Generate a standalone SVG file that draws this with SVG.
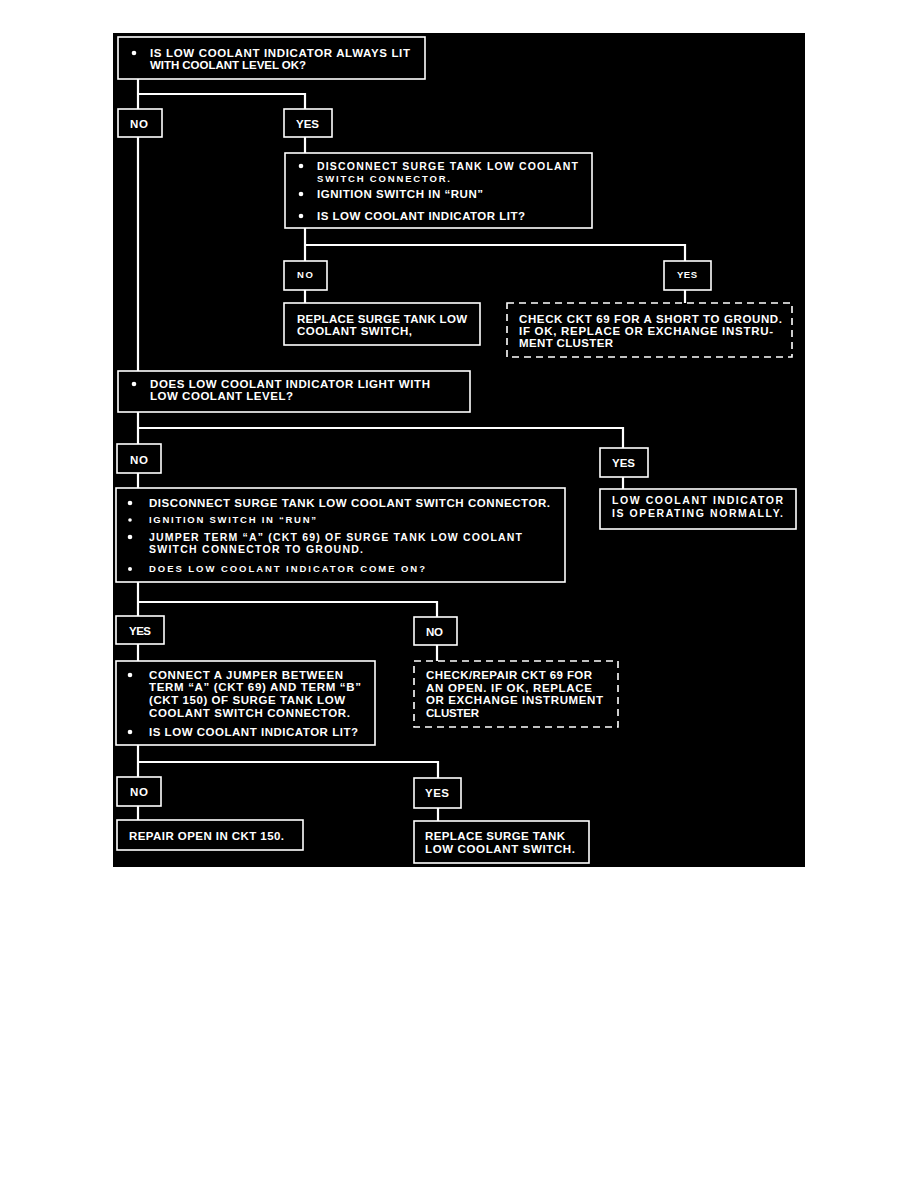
<svg xmlns="http://www.w3.org/2000/svg" width="918" height="1188" viewBox="0 0 918 1188">
<style>
.bg{fill:#000}
.box{fill:#000;stroke:#fff;stroke-width:1.6}
.dash{fill:#000;stroke:#fff;stroke-width:1.6;stroke-dasharray:7,5}
.con{fill:none;stroke:#fff;stroke-width:2.2}
text{font-family:"Liberation Sans",Arial,sans-serif;font-weight:bold;font-size:11.5px;fill:#fff}
.t{font-size:10.5px}
.s{font-size:9.5px}
.b{fill:#fff}
</style>
<rect class="bg" x="113" y="33" width="692" height="834"/>
<g id="connectors">
<path class="con" d="M138,79 V371"/>
<path class="con" d="M138,94 H305 V109"/>
<path class="con" d="M305,137 V153"/>
<path class="con" d="M305,228 V261"/>
<path class="con" d="M305,245 H685 V261"/>
<path class="con" d="M305,290 V303"/>
<path class="con" d="M685,290 V303"/>
<path class="con" d="M138,412 V488"/>
<path class="con" d="M138,428 H623 V448"/>
<path class="con" d="M623,477 V489"/>
<path class="con" d="M138,582 V661"/>
<path class="con" d="M138,602 H437 V617"/>
<path class="con" d="M437,645 V661"/>
<path class="con" d="M138,745 V820"/>
<path class="con" d="M138,762 H438 V778"/>
<path class="con" d="M438,808 V821"/>
</g>
<g id="q1">
<rect class="box" x="118" y="37" width="307" height="42"/>
<circle class="b" cx="134" cy="53" r="2.3"/>
<text x="150" y="57" textLength="260">IS LOW COOLANT INDICATOR ALWAYS LIT</text>
<text x="150" y="69" textLength="156">WITH COOLANT LEVEL OK?</text>
</g>
<g id="no1">
<rect class="box" x="118" y="109" width="44" height="28"/>
<text x="130" y="128" textLength="18">NO</text>
</g>
<g id="yes1">
<rect class="box" x="284" y="109" width="48" height="28"/>
<text x="296" y="128" textLength="23">YES</text>
</g>
<g id="q2">
<rect class="box" x="285" y="153" width="307" height="75"/>
<circle class="b" cx="301" cy="166" r="2.3"/>
<text class="t" x="317" y="170" textLength="261">DISCONNECT SURGE TANK LOW COOLANT</text>
<text class="s" x="317" y="182" textLength="133">SWITCH CONNECTOR.</text>
<circle class="b" cx="301" cy="194" r="2.3"/>
<text x="317" y="198" textLength="166">IGNITION SWITCH IN “RUN”</text>
<circle class="b" cx="301" cy="216" r="2.3"/>
<text x="317" y="220" textLength="208">IS LOW COOLANT INDICATOR LIT?</text>
</g>
<g id="no2">
<rect class="box" x="284" y="261" width="43" height="29"/>
<text class="s" x="297" y="278" textLength="16">NO</text>
</g>
<g id="yes2">
<rect class="box" x="664" y="261" width="47" height="29"/>
<text class="s" x="677" y="278" textLength="20">YES</text>
</g>
<g id="a1">
<rect class="box" x="284" y="303" width="196" height="42"/>
<text x="297" y="323" textLength="170">REPLACE SURGE TANK LOW</text>
<text x="297" y="335" textLength="115">COOLANT SWITCH,</text>
</g>
<g id="a2">
<rect class="dash" x="507" y="303" width="285" height="54"/>
<text x="519" y="323" textLength="263">CHECK CKT 69 FOR A SHORT TO GROUND.</text>
<text x="519" y="335" textLength="254">IF OK, REPLACE OR EXCHANGE INSTRU-</text>
<text x="519" y="347" textLength="94">MENT CLUSTER</text>
</g>
<g id="q3">
<rect class="box" x="118" y="371" width="352" height="41"/>
<circle class="b" cx="134" cy="384" r="2.3"/>
<text x="150" y="388" textLength="280">DOES LOW COOLANT INDICATOR LIGHT WITH</text>
<text x="150" y="400" textLength="143">LOW COOLANT LEVEL?</text>
</g>
<g id="no3">
<rect class="box" x="117" y="444" width="44" height="29"/>
<text x="130" y="464" textLength="18">NO</text>
</g>
<g id="yes3">
<rect class="box" x="600" y="448" width="48" height="29"/>
<text x="612" y="467" textLength="23">YES</text>
</g>
<g id="a3">
<rect class="box" x="600" y="489" width="196" height="40"/>
<text class="t" x="612" y="504" textLength="171">LOW COOLANT INDICATOR</text>
<text class="t" x="612" y="517" textLength="171">IS OPERATING NORMALLY.</text>
</g>
<g id="q4">
<rect class="box" x="116" y="488" width="449" height="94"/>
<circle class="b" cx="130" cy="503" r="2.3"/>
<text x="149" y="507" textLength="401">DISCONNECT SURGE TANK LOW COOLANT SWITCH CONNECTOR.</text>
<circle class="b" cx="130" cy="520" r="1.8"/>
<text class="s" x="149" y="523" textLength="167">IGNITION SWITCH IN “RUN”</text>
<circle class="b" cx="130" cy="537" r="2.3"/>
<text class="t" x="149" y="541" textLength="373">JUMPER TERM “A” (CKT 69) OF SURGE TANK LOW COOLANT</text>
<text class="t" x="149" y="553" textLength="214">SWITCH CONNECTOR TO GROUND.</text>
<circle class="b" cx="130" cy="569" r="2"/>
<text class="s" x="149" y="572" textLength="276">DOES LOW COOLANT INDICATOR COME ON?</text>
</g>
<g id="yes4">
<rect class="box" x="116" y="616" width="48" height="28"/>
<text x="129" y="635" textLength="22">YES</text>
</g>
<g id="no4">
<rect class="box" x="414" y="617" width="43" height="28"/>
<text x="426" y="636" textLength="17">NO</text>
</g>
<g id="q5">
<rect class="box" x="116" y="661" width="259" height="84"/>
<circle class="b" cx="130" cy="675" r="2.3"/>
<text x="149" y="679" textLength="194">CONNECT A JUMPER BETWEEN</text>
<text x="149" y="691" textLength="212">TERM “A” (CKT 69) AND TERM “B”</text>
<text x="149" y="704" textLength="196">(CKT 150) OF SURGE TANK LOW</text>
<text x="149" y="717" textLength="201">COOLANT SWITCH CONNECTOR.</text>
<circle class="b" cx="130" cy="732" r="2.3"/>
<text x="149" y="736" textLength="209">IS LOW COOLANT INDICATOR LIT?</text>
</g>
<g id="a4">
<rect class="dash" x="414" y="661" width="204" height="66"/>
<text x="426" y="679" textLength="166">CHECK/REPAIR CKT 69 FOR</text>
<text x="426" y="692" textLength="166">AN OPEN. IF OK, REPLACE</text>
<text x="426" y="704" textLength="177">OR EXCHANGE INSTRUMENT</text>
<text x="426" y="717" textLength="53">CLUSTER</text>
</g>
<g id="no5">
<rect class="box" x="117" y="777" width="44" height="29"/>
<text x="130" y="796" textLength="18">NO</text>
</g>
<g id="yes5">
<rect class="box" x="414" y="778" width="47" height="30"/>
<text x="425" y="797" textLength="24">YES</text>
</g>
<g id="a5">
<rect class="box" x="117" y="820" width="186" height="30"/>
<text x="129" y="840" textLength="155">REPAIR OPEN IN CKT 150.</text>
</g>
<g id="a6">
<rect class="box" x="414" y="821" width="175" height="42"/>
<text x="425" y="840" textLength="140">REPLACE SURGE TANK</text>
<text x="425" y="853" textLength="150">LOW COOLANT SWITCH.</text>
</g>
</svg>
